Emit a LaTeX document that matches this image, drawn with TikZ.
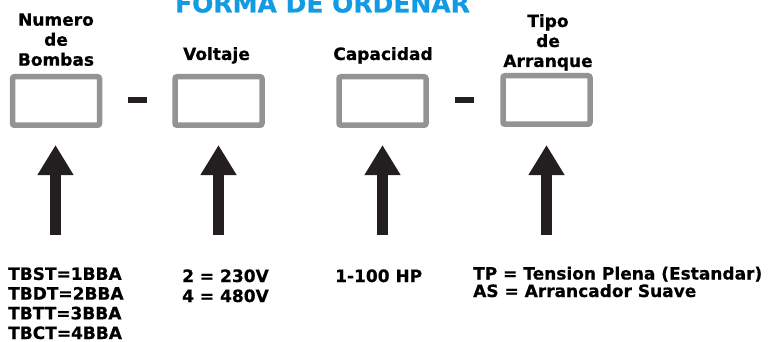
\documentclass[tikz,border=0pt]{standalone}
\usepackage{fontspec}
\setmainfont{DejaVu Sans}[BoldFeatures={FakeBold=0.6}]
\usetikzlibrary{arrows.meta}
\definecolor{titleblue}{RGB}{18,155,226}
\definecolor{boxgray}{RGB}{147,147,150}
\definecolor{inkdark}{RGB}{35,31,32}
\tikzset{
  slot/.style={draw=boxgray, line width=5.5pt, rounded corners=2pt, minimum width=87pt, minimum height=48.5pt, inner sep=0pt},
  sepbar/.style={fill=inkdark, minimum width=19pt, minimum height=6pt, inner sep=0pt},
  bigarrow/.style={draw=inkdark, line width=11pt, -{Triangle[width=34pt,length=30pt,fill=inkdark]}},
  lbl/.style={font=\bfseries\fontsize{17}{20}\selectfont, inner sep=0pt, align=center},
  txt/.style={font=\bfseries\fontsize{17}{19.7}\selectfont, inner sep=0pt, align=left, anchor=base west},
}
\begin{document}
\begin{tikzpicture}[x=1pt,y=-1pt]
\useasboundingbox (0,0) rectangle (771,342);
\node[font=\bfseries\fontsize{25}{30}\selectfont, text=titleblue, inner sep=0pt, anchor=base] (title) at (322.5,12.5) {FORMA DE ORDENAR};
% headers
\node[lbl, anchor=base] (h1) at (56,65.7) {Numero\\de\\Bombas};
\node[lbl, anchor=base] (h2) at (216.5,60) {Voltaje};
\node[lbl, anchor=base] (h3) at (383,60) {Capacidad};
\node[lbl, anchor=base] (h4) at (548,67) {Tipo\\de\\Arranque};
% boxes
\node[slot] (b1) at (56,101) {};
\node[slot] (b2) at (218.5,101) {};
\node[slot] (b3) at (382.5,101) {};
\node[slot] (b4) at (546.5,100) {};
% separators
\node[sepbar] (d1) at (137.5,100.5) {};
\node[sepbar] (d2) at (464,100.5) {};
% arrows
\coordinate (a1s) at (55.5,235); \coordinate (a1e) at (55.5,145);
\coordinate (a2s) at (218.5,235); \coordinate (a2e) at (218.5,145);
\coordinate (a3s) at (382.5,235); \coordinate (a3e) at (382.5,145);
\coordinate (a4s) at (546.5,235); \coordinate (a4e) at (546.5,145);
\draw[bigarrow] (a1s) -- (a1e);
\draw[bigarrow] (a2s) -- (a2e);
\draw[bigarrow] (a3s) -- (a3e);
\draw[bigarrow] (a4s) -- (a4e);
% option texts
\node[txt] (t1) at (8,339) {TBST=1BBA\\TBDT=2BBA\\TBTT=3BBA\\TBCT=4BBA};
\node[txt, font=\bfseries\fontsize{17}{20}\selectfont] (t2) at (182,302) {2 = 230V\\4 = 480V};
\node[txt] (t3) at (335,282) {1-100 HP};
\node[txt, font=\bfseries\fontsize{17}{17.5}\selectfont] (t4) at (473,297) {TP = Tension Plena (Estandar)\\AS = Arrancador Suave};
\end{tikzpicture}
\end{document}
